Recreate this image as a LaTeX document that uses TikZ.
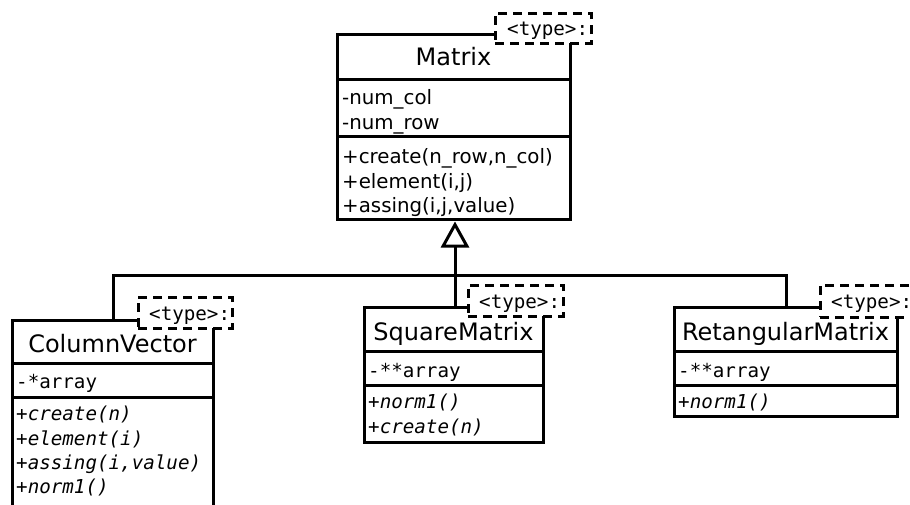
\documentclass[tikz,border=0pt]{standalone}
\usepackage{fontspec}
\setmainfont{DejaVu Sans}
\setmonofont{DejaVu Sans Mono}[ItalicFont={DejaVu Sans Mono Oblique}]
\usetikzlibrary{arrows.meta}

\tikzset{
  umlbox/.style={draw, line width=3pt, fill=white, inner sep=0pt, outer sep=0pt, anchor=north west},
  part/.style={line width=3pt},
  tmpl/.style={draw, line width=3pt, dash pattern=on 9pt off 6pt, fill=white, inner sep=0pt, outer sep=0pt, anchor=north west},
  cname/.style={anchor=base, inner sep=0pt, font=\fontsize{24}{28}\selectfont},
  member/.style={anchor=base west, inner sep=0pt, font=\fontsize{19.8}{24}\selectfont},
  mattr/.style={anchor=base west, inner sep=0pt, font=\ttfamily\fontsize{19.2}{24}\selectfont},
  mop/.style={anchor=base west, inner sep=0pt, font=\ttfamily\itshape\fontsize{19.2}{24}\selectfont},
  ttext/.style={anchor=base west, inner sep=0pt, font=\ttfamily\fontsize{19.2}{24}\selectfont},
  gen/.style={line width=3pt, -{Triangle[open, length=26pt, width=28pt]}},
}

\begin{document}
\begin{tikzpicture}[x=1pt, y=-1pt]
\useasboundingbox (0,0) rectangle (910,504);

% attachment points on the class boxes
\coordinate (mB)  at (455,221.5);
\coordinate (cvT) at (113,320);
\coordinate (smT) at (455,307);
\coordinate (rmT) at (786,307);
\coordinate (bus) at (455,275);

% generalisation tree
\draw[part] (cvT) |- (bus) -| (rmT);
\draw[gen] (smT) -- (mB);

% Matrix
\node[umlbox, minimum width=233pt, minimum height=185pt] (mat) at (337,34) {};
\draw[part] (337,79) -- (570,79);
\draw[part] (337,136) -- (570,136);
\node[tmpl, minimum width=96pt, minimum height=30pt] (matT) at (495,13) {};
\node[ttext] (matTt) at (507,35) {<type>:};
\node[cname] (matN) at (453.5,65) {Matrix};
\node[member] (ma1) at (342,104) {-num\_col};
\node[member] (ma2) at (342,129) {-num\_row};
\node[member] (mo1) at (342,163) {+create(n\_row,n\_col)};
\node[member] (mo2) at (342,188) {+element(i,j)};
\node[member] (mo3) at (342,212) {+assing(i,j,value)};

% ColumnVector
\node[umlbox, minimum width=201pt, minimum height=220pt] (cv) at (12,320) {};
\draw[part] (12,363) -- (213,363);
\draw[part] (12,397) -- (213,397);
\node[tmpl, minimum width=94pt, minimum height=31pt] (cvT2) at (138,297) {};
\node[ttext] (cvTt) at (149,320) {<type>:};
\node[cname] (cvN) at (112.5,352) {ColumnVector};
\node[mattr] (cva1) at (16,388) {-*array};
\node[mop] (cvo1) at (16,420) {+create(n)};
\node[mop] (cvo2) at (16,445) {+element(i)};
\node[mop] (cvo3) at (16,469) {+assing(i,value)};
\node[mop] (cvo4) at (16,493) {+norm1()};

% SquareMatrix
\node[umlbox, minimum width=179pt, minimum height=135pt] (sm) at (364,307) {};
\draw[part] (364,351) -- (543,351);
\draw[part] (364,385) -- (543,385);
\node[tmpl, minimum width=95pt, minimum height=31pt] (smT2) at (468,285) {};
\node[ttext] (smTt) at (479,308) {<type>:};
\node[cname] (smN) at (453.5,340) {SquareMatrix};
\node[mattr] (sma1) at (368,377) {-**array};
\node[mop] (smo1) at (368,408) {+norm1()};
\node[mop] (smo2) at (368,433) {+create(n)};

% RetangularMatrix
\node[umlbox, minimum width=223pt, minimum height=109pt] (rm) at (674,307) {};
\draw[part] (674,351) -- (897,351);
\draw[part] (674,385) -- (897,385);
\node[tmpl, minimum width=96pt, minimum height=32pt] (rmT2) at (820,285) {};
\node[ttext] (rmTt) at (831,308) {<type>:};
\node[cname] (rmN) at (785.5,340) {RetangularMatrix};
\node[mattr] (rma1) at (678,377) {-**array};
\node[mop] (rmo1) at (678,408) {+norm1()};
\end{tikzpicture}
\end{document}
